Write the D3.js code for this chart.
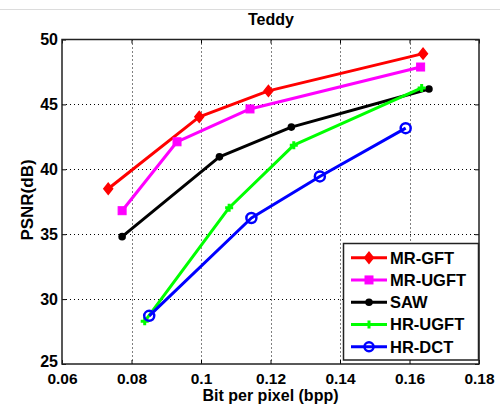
<!DOCTYPE html>
<html><head><meta charset="utf-8">
<script src="https://cdn.jsdelivr.net/npm/d3@7"></script>
<style>
body{margin:0;background:#fff;}
text{font-family:"Liberation Sans",Arial,sans-serif;font-weight:bold;fill:#000;}
</style></head>
<body>
<svg id="c" width="500" height="407"></svg>
<script>
const title = "Teddy";
const xLabel = "Bit per pixel (bpp)";
const yLabel = "PSNR(dB)";
const xTicks = [0.06,0.08,0.1,0.12,0.14,0.16,0.18];
const yTicks = [25,30,35,40,45,50];
const seriesNames = ["MR-GFT","MR-UGFT","SAW","HR-UGFT","HR-DCT"];
const seriesColors = ["#ff0000","#ff00ff","#000000","#00ff00","#0000ff"];
const seriesMarkers = ["diamond","square","dot","plus","circle"];
const mrGftX = [0.0733,0.0995,0.1194,0.1639];
const mrGftY = [38.5,44.04,46.04,48.91];
const mrUgftX = [0.0773,0.0931,0.1141,0.1632];
const mrUgftY = [36.81,42.12,44.65,47.88];
const sawX = [0.0773,0.1053,0.1260,0.1656];
const sawY = [34.81,40.96,43.25,46.19];
const hrUgftX = [0.0838,0.1081,0.1267,0.1635];
const hrUgftY = [28.29,37.04,41.86,46.27];
const hrDctX = [0.0851,0.1145,0.1342,0.1589];
const hrDctY = [28.71,36.25,39.45,43.17];
const seriesX = [mrGftX,mrUgftX,sawX,hrUgftX,hrDctX];
const seriesY = [mrGftY,mrUgftY,sawY,hrUgftY,hrDctY];

const svg = d3.select("#c");
const L=62,R=479,T=39.5,B=364;
const x = d3.scaleLinear().domain([0.06,0.18]).range([L,R]);
const y = d3.scaleLinear().domain([25,50]).range([B,T]);

// faint top line
svg.append("line").attr("x1",0).attr("x2",500).attr("y1",9.5).attr("y2",9.5)
  .attr("stroke","#dcdcdc").attr("stroke-width",1);

// grid
const g = svg.append("g");
xTicks.slice(1,-1).forEach(v=>{
  g.append("line").attr("x1",Math.round(x(v))+0.5).attr("x2",Math.round(x(v))+0.5)
   .attr("y1",T).attr("y2",B).attr("stroke","#000").attr("stroke-width",1)
   .attr("stroke-dasharray","1,3");
});
yTicks.slice(1,-1).forEach(v=>{
  g.append("line").attr("x1",L).attr("x2",R).attr("y1",Math.round(y(v))+0.5).attr("y2",Math.round(y(v))+0.5)
   .attr("stroke","#000").attr("stroke-width",1).attr("stroke-dasharray","1,3");
});

// axes
const xAxis = d3.axisBottom(x).tickValues(xTicks).tickFormat(d3.format("")).tickSize(-4).tickPadding(8);
const yAxis = d3.axisLeft(y).tickValues(yTicks).tickSize(-4).tickPadding(4);
const xa = svg.append("g").attr("transform",`translate(0,${B})`).call(xAxis);
const ya = svg.append("g").attr("transform",`translate(${L},0)`).call(yAxis);
const xt = svg.append("g").attr("transform",`translate(0,${T})`).call(d3.axisTop(x).tickValues(xTicks).tickFormat("").tickSize(-4));
const yr = svg.append("g").attr("transform",`translate(${R},0)`).call(d3.axisRight(y).tickValues(yTicks).tickFormat("").tickSize(-4));
[xa,ya,xt,yr].forEach(a=>{
  a.select(".domain").remove();
  a.selectAll("line").attr("stroke","#000");
  a.selectAll("text").style("font-size","16px").style("font-family","'Liberation Sans',Arial,sans-serif").style("font-weight","bold").attr("fill","#000");
});
xa.selectAll("text").style("font-size","15.5px").attr("y",8.5).attr("dy","0.75em");
ya.selectAll(".tick").filter(d=>d===25).select("text").attr("y",-3);
svg.append("rect").attr("x",L).attr("y",T).attr("width",R-L).attr("height",B-T)
  .attr("fill","none").attr("stroke","#222").attr("stroke-width",1.5);

// labels
svg.append("text").attr("x",271).attr("y",25).attr("text-anchor","middle").style("font-size","16px").text(title);
svg.append("text").attr("x",(L+R)/2).attr("y",401).attr("text-anchor","middle").style("font-size","16px").text(xLabel);
svg.append("text").attr("transform",`translate(33,200) rotate(-90)`).attr("text-anchor","middle").style("font-size","17px").text(yLabel);

function marker(sel,type,cx,cy,color,scale){
  scale = scale||1;
  if(type==="diamond"){
    const s=5.5*scale;
    sel.append("path").attr("d",`M${cx},${cy-s}L${cx+s*0.8},${cy}L${cx},${cy+s}L${cx-s*0.8},${cy}Z`)
      .attr("fill",color).attr("stroke",color).attr("stroke-width",1.5);
  } else if(type==="square"){
    const s=4*scale;
    sel.append("rect").attr("x",cx-s).attr("y",cy-s).attr("width",2*s).attr("height",2*s)
      .attr("fill",color).attr("stroke",color).attr("stroke-width",1);
  } else if(type==="dot"){
    sel.append("circle").attr("cx",cx).attr("cy",cy).attr("r",3.8*scale).attr("fill",color);
  } else if(type==="plus"){
    const s=4*scale;
    sel.append("path").attr("d",`M${cx-s},${cy}H${cx+s}M${cx},${cy-s}V${cy+s}`)
      .attr("stroke",color).attr("stroke-width",3).attr("fill","none");
  } else if(type==="circle"){
    sel.append("circle").attr("cx",cx).attr("cy",cy).attr("r",5*scale)
      .attr("fill",scale>1?color:"none").attr("stroke",color).attr("stroke-width",2.5);
  }
}

const line = d3.line().x(d=>x(d[0])).y(d=>y(d[1]));
const plot = svg.append("g");
seriesNames.forEach((n,i)=>{
  const pts = seriesX[i].map((v,j)=>[v,seriesY[i][j]]);
  plot.append("path").datum(pts).attr("d",line).attr("fill","none")
    .attr("stroke",seriesColors[i]).attr("stroke-width",3).attr("stroke-linejoin","round");
  pts.forEach(p=>marker(plot,seriesMarkers[i],x(p[0]),y(p[1]),seriesColors[i]));
});

// legend
const lg = svg.append("g");
lg.append("rect").attr("x",343.5).attr("y",243.5).attr("width",135).attr("height",116.5)
  .attr("fill","#fff").attr("stroke","#222").attr("stroke-width",1.5);
seriesNames.forEach((n,i)=>{
  const cy = 257.7 + i*22.25;
  lg.append("line").attr("x1",351).attr("x2",387).attr("y1",cy).attr("y2",cy)
    .attr("stroke",seriesColors[i]).attr("stroke-width",3);
  marker(lg,seriesMarkers[i],369,cy,seriesColors[i],seriesMarkers[i]==="circle"?0.9:1);
  lg.append("text").attr("x",390).attr("y",cy+6).style("font-size","16.5px").text(n);
});
</script>
</body></html>
